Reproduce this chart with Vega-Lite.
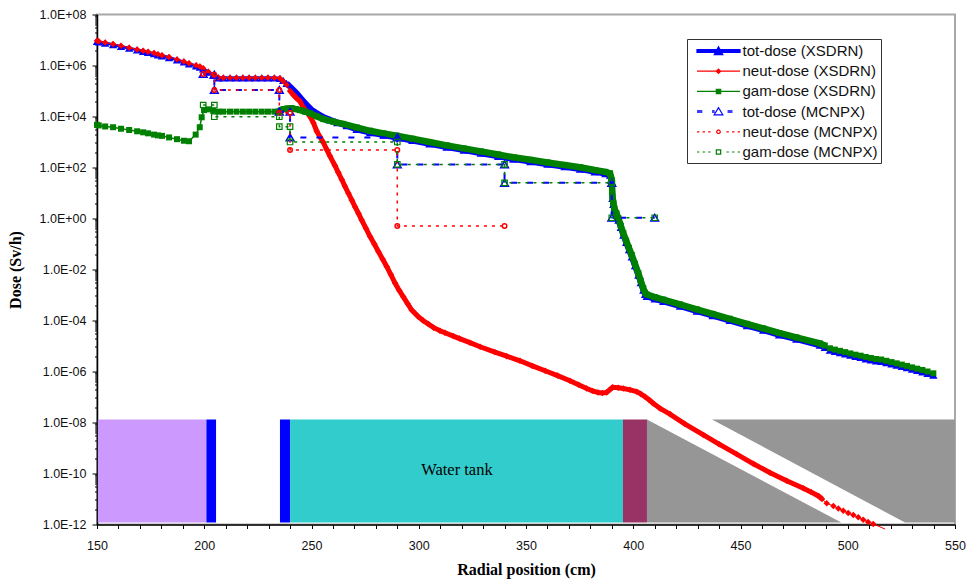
{"$schema":"https://vega.github.io/schema/vega-lite/v6.json","width":858,"height":510,"autosize":"none","padding":{"left":97,"top":14.5,"right":11,"bottom":54.5},"background":"white","view":{"stroke":"#a8a8a8","strokeWidth":2},
"config":{"axis":{"grid":false,"domainColor":"black","tickColor":"black","labelColor":"#111","labelFont":"Liberation Sans","labelFontSize":12.5,"titleFont":"Liberation Serif","titleFontWeight":"bold","titleFontSize":16,"titleColor":"black","domainWidth":1.5,"tickWidth":1,"labelOverlap":false,"labelFlush":false,"labelBound":false}},
"datasets":{
"t":[{"x":150,"y":8.9e6},{"x":150.8,"y":8.5e6},{"x":153.8,"y":7.6e6},{"x":157.5,"y":6.6e6},{"x":161.2,"y":5.6e6},{"x":165,"y":4.8e6},{"x":168.7,"y":4.1e6},{"x":171.5,"y":3.6e6},{"x":173.8,"y":3.3e6},{"x":176.6,"y":2.95e6},{"x":178.4,"y":2.6e6},{"x":180.3,"y":2.4e6},{"x":183.6,"y":2.05e6},{"x":187.3,"y":1.66e6},{"x":190.5,"y":1.38e6},{"x":192.9,"y":1.17e6},{"x":196.2,"y":9.7e5},{"x":198,"y":8.7e5},{"x":199.5,"y":7.4e5},{"x":201.9,"y":5.5e5},{"x":204.2,"y":4.2e5},{"x":206.6,"y":3.3e5},{"x":208.9,"y":3.3e5},{"x":212,"y":3.3e5},{"x":215,"y":3.3e5},{"x":218,"y":3.3e5},{"x":220.9,"y":3.3e5},{"x":223.8,"y":3.3e5},{"x":226.8,"y":3.3e5},{"x":229.7,"y":3.3e5},{"x":232.7,"y":3.3e5},{"x":235.3,"y":3.16e5},{"x":236.8,"y":2.63e5},{"x":238.4,"y":2e5},{"x":240.8,"y":1.26e5},{"x":243.1,"y":8.13e4},{"x":245.4,"y":4.79e4},{"x":247.8,"y":2.82e4},{"x":250,"y":1.86e4},{"x":252.4,"y":1.35e4},{"x":255.5,"y":9.55e3},{"x":258.6,"y":7.41e3},{"x":262,"y":5.75e3},{"x":266.4,"y":4.37e3},{"x":271,"y":3.16e3},{"x":277.3,"y":2.34e3},{"x":283.5,"y":1.86e3},{"x":289.7,"y":1.51e3},{"x":297,"y":1.15e3},{"x":305,"y":851},{"x":313,"y":631},{"x":321,"y":479},{"x":329,"y":363},{"x":337,"y":275},{"x":344.1,"y":214},{"x":352,"y":170},{"x":360,"y":135},{"x":368,"y":107},{"x":375.2,"y":87},{"x":382,"y":67.6},{"x":387,"y":57.5},{"x":389.2,"y":50.1},{"x":390,"y":27.5},{"x":390.3,"y":6.17},{"x":390.7,"y":3.55},{"x":391.2,"y":2.14},{"x":392.2,"y":1.35},{"x":393.1,"y":0.871},{"x":394.2,"y":0.447},{"x":395.4,"y":0.224},{"x":396.7,"y":0.115},{"x":398,"y":0.0603},{"x":399.3,"y":0.0316},{"x":400.8,"y":0.0141},{"x":402.4,"y":6.03e-3},{"x":403.5,"y":3.09e-3},{"x":404.7,"y":1.55e-3},{"x":405.5,"y":1.05e-3},{"x":406.3,"y":8.91e-4},{"x":410,"y":7.08e-4},{"x":414,"y":5.62e-4},{"x":421.8,"y":3.63e-4},{"x":429.6,"y":2.34e-4},{"x":437,"y":1.55e-4},{"x":445,"y":1e-4},{"x":453,"y":6.31e-5},{"x":460.6,"y":4.17e-5},{"x":468,"y":2.75e-5},{"x":476,"y":1.86e-5},{"x":487,"y":1.07e-5},{"x":489.3,"y":8.91e-6},{"x":491.7,"y":6.92e-6},{"x":494,"y":6.17e-6},{"x":496.4,"y":5.5e-6},{"x":498.8,"y":4.9e-6},{"x":501.2,"y":4.37e-6},{"x":503.6,"y":3.89e-6},{"x":506,"y":3.55e-6},{"x":508.4,"y":3.16e-6},{"x":510.8,"y":2.88e-6},{"x":513.2,"y":2.63e-6},{"x":515.6,"y":2.51e-6},{"x":518,"y":2.24e-6},{"x":520.4,"y":2e-6},{"x":522.8,"y":1.78e-6},{"x":525.2,"y":1.58e-6},{"x":527.6,"y":1.41e-6},{"x":530,"y":1.23e-6},{"x":532.4,"y":1.1e-6},{"x":534.8,"y":9.77e-7},{"x":537.2,"y":8.51e-7},{"x":539.9,"y":7.24e-7}],
"n":[{"x":150,"y":9.3e6},{"x":150.8,"y":8.91e6},{"x":153.8,"y":7.94e6},{"x":157.5,"y":6.92e6},{"x":161.2,"y":5.89e6},{"x":165,"y":5.01e6},{"x":168.7,"y":4.27e6},{"x":171.5,"y":3.8e6},{"x":173.8,"y":3.47e6},{"x":176.6,"y":3.09e6},{"x":178.4,"y":2.75e6},{"x":180.3,"y":2.51e6},{"x":183.6,"y":2.14e6},{"x":187.3,"y":1.74e6},{"x":190.5,"y":1.45e6},{"x":192.9,"y":1.23e6},{"x":196.2,"y":1.02e6},{"x":198,"y":9.12e5},{"x":199.5,"y":7.76e5},{"x":201.9,"y":5.75e5},{"x":204.2,"y":4.37e5},{"x":206.6,"y":3.39e5},{"x":208.9,"y":3.31e5},{"x":212,"y":3.31e5},{"x":215,"y":3.31e5},{"x":218,"y":3.31e5},{"x":220.9,"y":3.31e5},{"x":223.8,"y":3.31e5},{"x":226.8,"y":3.31e5},{"x":229.7,"y":3.31e5},{"x":232.7,"y":3.31e5},{"x":235.3,"y":3.16e5},{"x":236.8,"y":2.4e5},{"x":238.4,"y":1.74e5},{"x":240,"y":1e5},{"x":241.5,"y":7.08e4},{"x":243,"y":5.25e4},{"x":244.6,"y":3.98e4},{"x":246.2,"y":2.24e4},{"x":247.8,"y":1.51e4},{"x":249.3,"y":1e4},{"x":250.9,"y":5.62e3},{"x":252.4,"y":2.69e3},{"x":254,"y":1.58e3},{"x":255.5,"y":955},{"x":257,"y":525},{"x":258.6,"y":282},{"x":260.9,"y":120},{"x":262.5,"y":63.1},{"x":264.1,"y":33.9},{"x":265.6,"y":18.2},{"x":267.2,"y":9.77},{"x":268.8,"y":5.25},{"x":270.3,"y":2.88},{"x":271.9,"y":1.58},{"x":273.4,"y":0.871},{"x":275.4,"y":0.407},{"x":277.3,"y":0.195},{"x":279.3,"y":0.1},{"x":281.2,"y":0.0501},{"x":283.2,"y":0.0251},{"x":285.1,"y":0.0129},{"x":287,"y":6.31e-3},{"x":289,"y":2.88e-3},{"x":290.9,"y":1.51e-3},{"x":292.8,"y":8.51e-4},{"x":294.8,"y":4.57e-4},{"x":296.7,"y":2.57e-4},{"x":298.2,"y":1.91e-4},{"x":299.8,"y":1.41e-4},{"x":302,"y":1e-4},{"x":304.5,"y":7.24e-5},{"x":307,"y":5.25e-5},{"x":309.9,"y":3.98e-5},{"x":312.2,"y":3.31e-5},{"x":316.1,"y":2.45e-5},{"x":319,"y":1.95e-5},{"x":323.9,"y":1.35e-5},{"x":328.6,"y":9.33e-6},{"x":335.5,"y":5.75e-6},{"x":341,"y":3.98e-6},{"x":347.2,"y":2.63e-6},{"x":353,"y":1.66e-6},{"x":358.9,"y":1.07e-6},{"x":364.7,"y":6.92e-7},{"x":370.5,"y":4.37e-7},{"x":374.5,"y":3.02e-7},{"x":378.3,"y":2.14e-7},{"x":381,"y":1.74e-7},{"x":383.6,"y":1.51e-7},{"x":385.6,"y":1.45e-7},{"x":387.6,"y":1.51e-7},{"x":389,"y":1.91e-7},{"x":390.4,"y":2.4e-7},{"x":393,"y":2.29e-7},{"x":395.4,"y":2.14e-7},{"x":398.5,"y":1.91e-7},{"x":401.6,"y":1.62e-7},{"x":403.5,"y":1.32e-7},{"x":405.5,"y":1.02e-7},{"x":407.5,"y":7.59e-8},{"x":409.3,"y":5.62e-8},{"x":412.5,"y":3.55e-8},{"x":417.1,"y":2.14e-8},{"x":424,"y":8.91e-9},{"x":432.7,"y":3.24e-9},{"x":440,"y":1.41e-9},{"x":448.2,"y":5.75e-10},{"x":456,"y":2.4e-10},{"x":463.8,"y":1.07e-10},{"x":471.5,"y":5.25e-11},{"x":479.3,"y":2.63e-11},{"x":483,"y":1.86e-11},{"x":486.3,"y":1.32e-11},{"x":488,"y":1e-11},{"x":490.2,"y":6.76e-12},{"x":493.3,"y":5.37e-12},{"x":495.6,"y":4.27e-12},{"x":497.9,"y":3.47e-12},{"x":500.2,"y":2.82e-12},{"x":502.6,"y":2.34e-12},{"x":504.9,"y":1.91e-12},{"x":507.2,"y":1.55e-12},{"x":509.5,"y":1.26e-12},{"x":511.9,"y":1.05e-12},{"x":517.4,"y":6.61e-13}],
"g":[{"x":150,"y":4.68e3},{"x":150.8,"y":4.47e3},{"x":153.8,"y":4.07e3},{"x":157.5,"y":3.8e3},{"x":161.2,"y":3.31e3},{"x":165,"y":2.95e3},{"x":168.7,"y":2.63e3},{"x":171.5,"y":2.4e3},{"x":173.8,"y":2.19e3},{"x":176.6,"y":1.95e3},{"x":178.4,"y":1.82e3},{"x":180.3,"y":1.74e3},{"x":183.6,"y":1.51e3},{"x":187.3,"y":1.29e3},{"x":190.5,"y":1.12e3},{"x":192.9,"y":1.07e3},{"x":196,"y":1.95e3},{"x":197.9,"y":3.8e3},{"x":198.8,"y":9.33e3},{"x":199.9,"y":1.78e4},{"x":201.9,"y":1.91e4},{"x":204.2,"y":1.66e4},{"x":206.6,"y":1.55e4},{"x":208.9,"y":1.55e4},{"x":212,"y":1.55e4},{"x":215,"y":1.55e4},{"x":218,"y":1.55e4},{"x":220.9,"y":1.55e4},{"x":223.8,"y":1.55e4},{"x":226.8,"y":1.55e4},{"x":229.7,"y":1.55e4},{"x":232.7,"y":1.55e4},{"x":234.5,"y":1.55e4},{"x":235.7,"y":1.74e4},{"x":236.9,"y":1.95e4},{"x":238.8,"y":2.04e4},{"x":240.8,"y":2.09e4},{"x":242.7,"y":1.95e4},{"x":244.6,"y":1.78e4},{"x":247,"y":1.55e4},{"x":249.3,"y":1.35e4},{"x":252.4,"y":1.02e4},{"x":255.5,"y":7.94e3},{"x":260,"y":6.31e3},{"x":264.8,"y":5.13e3},{"x":271,"y":3.72e3},{"x":277.3,"y":2.75e3},{"x":283.5,"y":2.19e3},{"x":289.7,"y":1.78e3},{"x":297,"y":1.35e3},{"x":305,"y":1e3},{"x":313,"y":741},{"x":321,"y":562},{"x":329,"y":427},{"x":337,"y":324},{"x":344.1,"y":251},{"x":352,"y":200},{"x":360,"y":158},{"x":368,"y":126},{"x":375.2,"y":102},{"x":382,"y":79.4},{"x":387,"y":67.6},{"x":389.2,"y":58.9},{"x":390,"y":32.4},{"x":390.3,"y":7.24},{"x":390.7,"y":4.17},{"x":391.2,"y":2.51},{"x":392.2,"y":1.58},{"x":393.1,"y":1.02},{"x":394.2,"y":0.525},{"x":395.4,"y":0.263},{"x":396.7,"y":0.135},{"x":398,"y":0.0708},{"x":399.3,"y":0.0372},{"x":400.8,"y":0.0166},{"x":402.4,"y":7.08e-3},{"x":403.5,"y":3.63e-3},{"x":404.7,"y":1.82e-3},{"x":405.5,"y":1.23e-3},{"x":406.3,"y":1.05e-3},{"x":410,"y":8.32e-4},{"x":414,"y":6.61e-4},{"x":421.8,"y":4.27e-4},{"x":429.6,"y":2.75e-4},{"x":437,"y":1.82e-4},{"x":445,"y":1.17e-4},{"x":453,"y":7.41e-5},{"x":460.6,"y":4.9e-5},{"x":468,"y":3.24e-5},{"x":476,"y":2.19e-5},{"x":487,"y":1.26e-5},{"x":489.3,"y":1.05e-5},{"x":491.7,"y":8.13e-6},{"x":494,"y":7.24e-6},{"x":496.4,"y":6.46e-6},{"x":498.8,"y":5.75e-6},{"x":501.2,"y":5.13e-6},{"x":503.6,"y":4.57e-6},{"x":506,"y":4.17e-6},{"x":508.4,"y":3.72e-6},{"x":510.8,"y":3.39e-6},{"x":513.2,"y":3.09e-6},{"x":515.6,"y":2.95e-6},{"x":518,"y":2.63e-6},{"x":520.4,"y":2.34e-6},{"x":522.8,"y":2.09e-6},{"x":525.2,"y":1.86e-6},{"x":527.6,"y":1.66e-6},{"x":530,"y":1.45e-6},{"x":532.4,"y":1.29e-6},{"x":534.8,"y":1.15e-6},{"x":537.2,"y":1e-6},{"x":539.9,"y":8.51e-7}],
"mt":[{"i":1,"x":199.5,"y":4.68e5},{"i":2,"x":204.7,"y":4.37e5},{"i":3,"x":204.7,"y":1.1e5},{"i":4,"x":235,"y":1.1e5},{"i":5,"x":235,"y":1.55e4},{"i":6,"x":240,"y":1.55e4},{"i":7,"x":240,"y":1.51e3},{"i":8,"x":290,"y":1.51e3},{"i":9,"x":290,"y":132},{"i":10,"x":340,"y":132},{"i":11,"x":340,"y":25.1},{"i":12,"x":390,"y":25.1},{"i":13,"x":390,"y":1.07},{"i":14,"x":410,"y":1.07}],
"mn":[{"i":1,"x":199.5,"y":4.68e5},{"i":2,"x":204.7,"y":4.37e5},{"i":3,"x":204.7,"y":1.1e5},{"i":4,"x":235,"y":1.1e5},{"i":5,"x":235,"y":1.41e4},{"i":6,"x":240,"y":1.41e4},{"i":7,"x":240,"y":490},{"i":8,"x":290,"y":490},{"i":9,"x":290,"y":0.513},{"i":10,"x":340,"y":0.513}],
"mg":[{"i":1,"x":199.5,"y":2.82e4},{"i":2,"x":204.7,"y":2.82e4},{"i":3,"x":204.7,"y":9.77e3},{"i":4,"x":235,"y":9.77e3},{"i":5,"x":235,"y":3.98e3},{"i":6,"x":240,"y":3.98e3},{"i":7,"x":240,"y":1e3},{"i":8,"x":290,"y":1e3},{"i":9,"x":290,"y":132},{"i":10,"x":340,"y":132},{"i":11,"x":340,"y":25.1},{"i":12,"x":390,"y":25.1},{"i":13,"x":390,"y":1.07},{"i":14,"x":410,"y":1.07}],
"strips":[{"material":"core","x":150.4,"x2":201,"y":1.3e-8,"y2":1.2e-12},{"material":"steel","x":201,"x2":205.5,"y":1.3e-8,"y2":1.2e-12},{"material":"steel","x":235.3,"x2":240,"y":1.3e-8,"y2":1.2e-12},{"material":"water","x":240,"x2":395.2,"y":1.3e-8,"y2":1.2e-12},{"material":"wall","x":395.2,"x2":406.4,"y":1.3e-8,"y2":1.2e-12}],
"gray1":[{"x":406.4,"y":1.3e-8,"y2":1.2e-12},{"x":497,"y":1.2e-12,"y2":1.2e-12}],
"gray2":[{"x":436.7,"y":1.3e-8,"y2":1.3e-8},{"x":526.7,"y":1.3e-8,"y2":1.2e-12},{"x":550,"y":1.3e-8,"y2":1.2e-12}],
"note":[{"x":317.8,"y":1.4e-10,"label":"Water tank"}]
},
"encoding":{
"x":{"field":"x","type":"quantitative","title":"Radial position (cm)","scale":{"domain":[150,550],"nice":false,"zero":false},"axis":{"values":[150,160,170,180,190,200,210,220,230,240,250,260,270,280,290,300,310,320,330,340,350,360,370,380,390,400,410,420,430,440,450,460,470,480,490,500,510,520,530,540,550],"labelExpr":"datum.value%50==0?datum.value:''","tickSize":4,"labelPadding":11,"titlePadding":9}},
"y":{"field":"y","type":"quantitative","title":"Dose (Sv/h)","scale":{"type":"log","domain":[1e-12,1e8],"nice":false},"axis":{"values":[1e-12,1e-11,2e-11,3e-11,4e-11,5e-11,6e-11,7e-11,8e-11,9e-11,1e-10,1e-9,2e-9,3e-9,4e-9,5e-9,6e-9,7e-9,8e-9,9e-9,1e-8,1e-7,2e-7,3e-7,4e-7,5e-7,6e-7,7e-7,8e-7,9e-7,1e-6,1e-5,2e-5,3e-5,4e-5,5e-5,6e-5,7e-5,8e-5,9e-5,1e-4,1e-3,2e-3,3e-3,4e-3,5e-3,6e-3,7e-3,8e-3,9e-3,0.01,0.1,0.2,0.3,0.4,0.5,0.6,0.7,0.8,0.9,1,10,20,30,40,50,60,70,80,90,100,1000,2000,3000,4000,5000,6000,7000,8000,9000,10000,1e5,2e5,3e5,4e5,5e5,6e5,7e5,8e5,9e5,1e6,1e7,2e7,3e7,4e7,5e7,6e7,7e7,8e7,9e7,1e8,4e-12,4e-10,4e-8,4e-6,4e-4,0.04,4,400,40000,4e6],
"labelExpr":"abs(round(log(datum.value)/LN10/2)*2-log(datum.value)/LN10)<0.001?'1.0E'+(log(datum.value)<0?'-':'+')+(abs(round(log(datum.value)/LN10))<10?'0':'')+abs(round(log(datum.value)/LN10)):''",
"tickSize":{"condition":{"test":"abs(round(log(datum.value)/LN10/2)*2-log(datum.value)/LN10)<0.001","value":5},"value":2.5},"labelPadding":6,"titleX":-74}}
},
"layer":[
{"data":{"name":"strips"},"mark":{"type":"rect"},"encoding":{"x2":{"field":"x2"},"y2":{"field":"y2"},"color":{"field":"material","type":"nominal","legend":null,"scale":{"domain":["core","steel","water","wall"],"range":["#cc99ff","#0000ff","#33cccc","#993366"]}}}},
{"data":{"name":"gray1"},"mark":{"type":"area","color":"#969696","opacity":1},"encoding":{"y2":{"field":"y2"}}},
{"data":{"name":"gray2"},"mark":{"type":"area","color":"#969696","opacity":1},"encoding":{"y2":{"field":"y2"}}},
{"data":{"name":"note"},"mark":{"type":"text","font":"Liberation Serif","fontSize":16.5,"color":"black"},"encoding":{"text":{"field":"label"}}},
{"data":{"name":"t"},"mark":{"type":"line","color":"#0000ff","strokeWidth":3}},
{"data":{"name":"t"},"transform":[{"filter":"datum.x>=238 && datum.x<490"}],"mark":{"type":"line","color":"#0000ff","strokeWidth":6}},
{"data":{"name":"t"},"mark":{"type":"point","shape":"triangle-up","filled":true,"color":"#0000ff","opacity":1,"size":70}},
{"data":{"name":"n"},"mark":{"type":"line","color":"#ff0000","strokeWidth":1}},
{"data":{"name":"n"},"transform":[{"filter":"datum.x>=240 && datum.x<490"}],"mark":{"type":"line","color":"#ff0000","strokeWidth":5}},
{"data":{"name":"n"},"transform":[{"filter":"datum.x<515"}],"mark":{"type":"point","shape":"diamond","filled":true,"color":"#ff0000","opacity":1,"size":42}},
{"data":{"name":"g"},"mark":{"type":"line","color":"#008000","strokeWidth":1.5}},
{"data":{"name":"g"},"transform":[{"filter":"datum.x>=234 && datum.x<490"}],"mark":{"type":"line","color":"#008000","strokeWidth":6.5}},
{"data":{"name":"g"},"mark":{"type":"point","shape":"square","filled":true,"color":"#008000","opacity":1,"size":36}},
{"data":{"name":"mt"},"mark":{"type":"line","color":"#0000ff","strokeWidth":2,"strokeDash":[6,10]},"encoding":{"order":{"field":"i"}}},
{"data":{"name":"mt"},"mark":{"type":"point","shape":"triangle-up","filled":false,"color":"#0000ff","opacity":1,"size":60,"strokeWidth":1.5}},
{"data":{"name":"mn"},"mark":{"type":"line","color":"#ff0000","strokeWidth":1.5,"strokeDash":[3,5]},"encoding":{"order":{"field":"i"}}},
{"data":{"name":"mn"},"mark":{"type":"point","shape":"circle","filled":false,"color":"#ff0000","opacity":1,"size":20,"strokeWidth":1.5}},
{"data":{"name":"mg"},"mark":{"type":"line","color":"#008000","strokeWidth":1.5,"strokeDash":[3,5]},"encoding":{"order":{"field":"i"}}},
{"data":{"name":"mg"},"mark":{"type":"point","shape":"square","filled":false,"color":"#008000","opacity":1,"size":30,"strokeWidth":1.2}},
{"data":{"values":[]},"mark":{"type":"point","opacity":1,"filled":true},"encoding":{
"shape":{"field":"series","type":"nominal","scale":{"domain":["tot-dose (XSDRN)","neut-dose (XSDRN)","gam-dose (XSDRN)","tot-dose (MCNPX)","neut-dose (MCNPX)","gam-dose (MCNPX)"],"range":["M-2.69,-.16H2.69V.16H-2.69Z M-.54,.46L0,-.54L.54,.46Z","M-2.69,0H2.69 M-.27,0L0,-.27L.27,0L0,.27Z","M-2.69,0H2.69 M-.27,-.27H.27V.27H-.27Z","M-2.69,-.08H-2.02M-2.69,.08H-2.02M-.81,-.08H-.48M-.81,.08H-.48M1.13,-.08H1.75M1.13,.08H1.75M-.54,.4L0,-.48L.54,.4Z","M-2.69,0H-2.39M-1.99,0H-1.69M-1.29,0H-.99M.99,0H1.29M1.69,0H1.99M2.39,0H2.69M-.215,-.08L-.08,-.215L.08,-.215L.215,-.08L.215,.08L.08,.215L-.08,.215L-.215,.08Z","M-2.69,0H-2.39M-1.99,0H-1.69M-1.29,0H-.99M.99,0H1.29M1.69,0H1.99M2.39,0H2.69M-.27,-.27H.27V.27H-.27Z"]},"legend":{"title":null,"orient":"none","legendX":590,"legendY":24.5,"padding":3,"strokeColor":"#333","fillColor":"white","labelFont":"Liberation Sans","labelFontSize":15,"labelColor":"#111","symbolSize":256,"symbolStrokeWidth":1.2,"symbolOffset":19.5,"labelOffset":15,"rowPadding":3.2,"labelExpr":"datum.label+'\u00a0'"}},
"fill":{"field":"series","type":"nominal","scale":{"domain":["tot-dose (XSDRN)","neut-dose (XSDRN)","gam-dose (XSDRN)","tot-dose (MCNPX)","neut-dose (MCNPX)","gam-dose (MCNPX)"],"range":["#0000ff","#ff0000","#008000","#ffffff","#ffffff","#ffffff"]},"legend":{"title":null,"orient":"none","legendX":590,"legendY":24.5,"padding":3,"strokeColor":"#333","fillColor":"white","labelFont":"Liberation Sans","labelFontSize":15,"labelColor":"#111","symbolSize":256,"symbolStrokeWidth":1.2,"symbolOffset":19.5,"labelOffset":15,"rowPadding":3.2,"labelExpr":"datum.label+'\u00a0'"}},
"stroke":{"field":"series","type":"nominal","scale":{"domain":["tot-dose (XSDRN)","neut-dose (XSDRN)","gam-dose (XSDRN)","tot-dose (MCNPX)","neut-dose (MCNPX)","gam-dose (MCNPX)"],"range":["#0000ff","#ff0000","#008000","#0000ff","#ff0000","#008000"]},"legend":{"title":null,"orient":"none","legendX":590,"legendY":24.5,"padding":3,"strokeColor":"#333","fillColor":"white","labelFont":"Liberation Sans","labelFontSize":15,"labelColor":"#111","symbolSize":256,"symbolStrokeWidth":1.2,"symbolOffset":19.5,"labelOffset":15,"rowPadding":3.2,"labelExpr":"datum.label+'\u00a0'"}}
}}
]}
